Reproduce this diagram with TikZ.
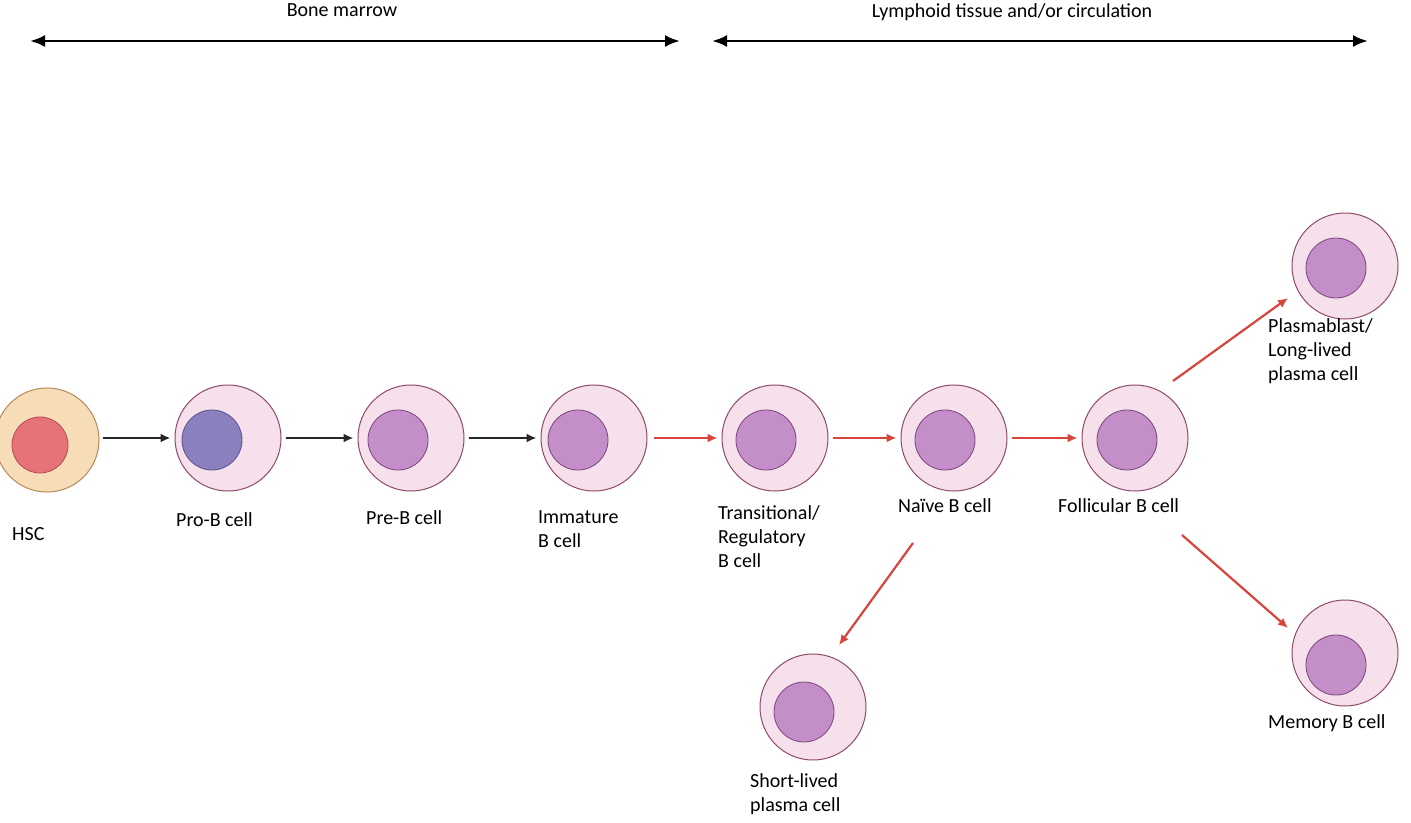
\documentclass[tikz,border=0pt]{standalone}
\usepackage{fontspec}
\setmainfont{Carlito}
\usetikzlibrary{arrows.meta}
\definecolor{cellfill}{HTML}{F6E0EC}
\definecolor{celldraw}{HTML}{8E4A6A}
\definecolor{nucfill}{HTML}{C48FC8}
\definecolor{nucdraw}{HTML}{7A457E}
\definecolor{redar}{HTML}{D8453C}
\definecolor{hscfill}{HTML}{F6DDB7}
\definecolor{hscdraw}{HTML}{B8875A}
\definecolor{hscnfill}{HTML}{E57378}
\definecolor{hscndraw}{HTML}{B44B50}
\definecolor{pbfill}{HTML}{8A80BE}
\definecolor{pbdraw}{HTML}{5A508C}
\begin{document}
\begin{tikzpicture}[x=1pt,y=-1pt,
  cell/.style={circle,fill=cellfill,draw=celldraw,line width=1pt,minimum size=106pt,inner sep=0},
  nuc/.style={circle,fill=nucfill,draw=nucdraw,line width=0.8pt,minimum size=60pt,inner sep=0},
  lab/.style={font=\fontsize{20}{24}\selectfont,align=left,inner sep=0},
  bk/.style={-{Latex[length=10pt,width=9pt]},line width=2.2pt,draw=black!85},
  rd/.style={-{Latex[length=10pt,width=9pt]},line width=2.2pt,draw=redar},
  span/.style={{Latex[length=15pt,width=12pt]}-{Latex[length=15pt,width=12pt]},line width=2.6pt}]
\useasboundingbox (0,0) rectangle (1411,822);
\node[font=\fontsize{20}{24}\selectfont,anchor=north] (bm) at (342,0) {Bone marrow};
\node[font=\fontsize{20}{24}\selectfont,anchor=north] (lt) at (1012,0) {Lymphoid tissue and/or circulation};
\coordinate (a1) at (30,41); \coordinate (a2) at (680,41);
\coordinate (b1) at (712,41); \coordinate (b2) at (1368,41);
\draw[span] (a1) -- (a2);
\draw[span] (b1) -- (b2);
% HSC
\node[circle,fill=hscfill,draw=hscdraw,line width=1pt,minimum size=104pt,inner sep=0] (hsc) at (47,440) {};
\node[circle,fill=hscnfill,draw=hscndraw,line width=0.8pt,minimum size=56pt,inner sep=0] at (40,445) {};
\foreach \n/\x/\y in {prob/228/438, preb/411/438, imm/594/438, tr/775/438, nv/954/438, fo/1135/438, pl/1345/266, me/1345/653, sl/813/707}{
  \node[cell] (\n) at (\x,\y) {};
}
\node[circle,fill=pbfill,draw=pbdraw,line width=0.8pt,minimum size=60pt,inner sep=0] at (212,440) {};
\foreach \x/\y in {398/440, 578/440, 766/440, 945/440, 1127/440, 1336/268, 1336/665, 804/712}{
  \node[nuc] at (\x,\y) {};
}
\node[lab,anchor=north west] (l0) at (12,527) {HSC};
\node[lab,anchor=north west] (l1) at (176,512) {Pro-B cell};
\node[lab,anchor=north west] (l2) at (366,510) {Pre-B cell};
\node[lab,anchor=north west] (l3) at (538,510) {Immature\\B cell};
\node[lab,anchor=north west] (l4) at (718,505) {Transitional/\\Regulatory\\B cell};
\node[lab,anchor=north west] (l5) at (898,498) {Naïve B cell};
\node[lab,anchor=north west] (l6) at (1058,498) {Follicular B cell};
\node[lab,anchor=north west] (l7) at (1268,318) {Plasmablast/\\Long-lived\\plasma cell};
\node[lab,anchor=north west] (l8) at (1268,714) {Memory B cell};
\node[lab,anchor=north west] (l9) at (750,773) {Short-lived\\plasma cell};
\draw[bk] ([shift={(3,-2)}]hsc.east) -- ([shift={(-4,0)}]prob.west);
\draw[bk] ([shift={(4,0)}]prob.east) -- ([shift={(-4,0)}]preb.west);
\draw[bk] ([shift={(4,0)}]preb.east) -- ([shift={(-4,0)}]imm.west);
\draw[rd] ([shift={(6,0)}]imm.east) -- ([shift={(-4,0)}]tr.west);
\draw[rd] ([shift={(4,0)}]tr.east) -- ([shift={(-4,0)}]nv.west);
\draw[rd] ([shift={(4,0)}]nv.east) -- ([shift={(-4,0)}]fo.west);
\coordinate (d1) at (1173,381); \coordinate (d2) at (1288,298);
\coordinate (e1) at (1182,535); \coordinate (e2) at (1288,628);
\coordinate (f1) at (913,543); \coordinate (f2) at (839,645);
\draw[rd] (d1) -- (d2);
\draw[rd] (e1) -- (e2);
\draw[rd] (f1) -- (f2);
\end{tikzpicture}
\end{document}
